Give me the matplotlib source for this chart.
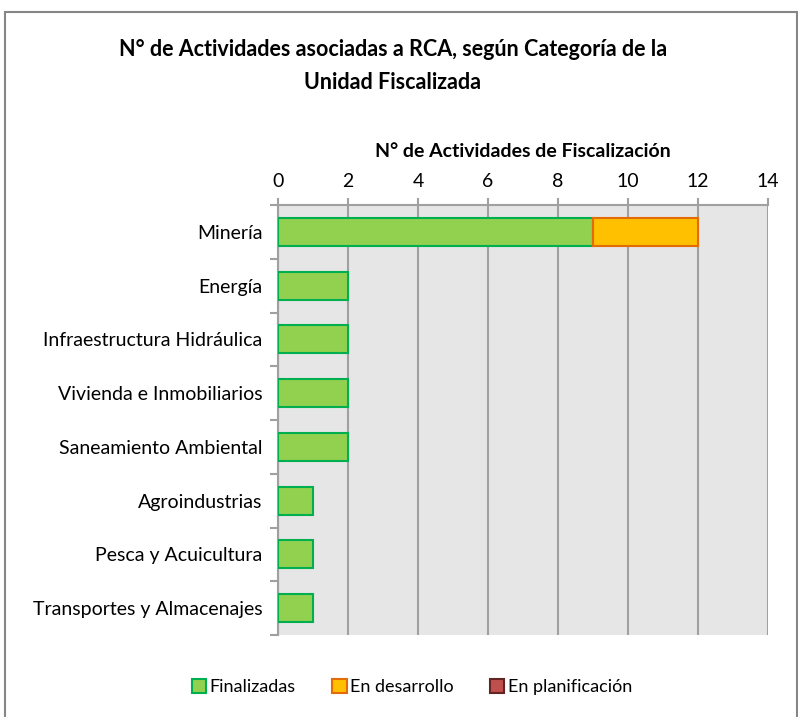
import matplotlib
matplotlib.use("Agg")
import matplotlib.pyplot as plt
from matplotlib.patches import Patch
import numpy as np

categorias = ["Minería", "Energía", "Infraestructura Hidráulica", "Vivienda e Inmobiliarios",
              "Saneamiento Ambiental", "Agroindustrias", "Pesca y Acuicultura",
              "Transportes y Almacenajes"]
finalizadas = [9, 2, 2, 2, 2, 1, 1, 1]
en_desarrollo = [3, 0, 0, 0, 0, 0, 0, 0]
en_planificacion = [0, 0, 0, 0, 0, 0, 0, 0]
series = ["Finalizadas", "En desarrollo", "En planificación"]

FILL = ["#92d050", "#ffc000", "#c0504d"]
EDGE = ["#00b050", "#e36c09", "#632523"]
GRID = "#a0a0a0"

plt.rcParams.update({"font.family": ["Lato", "DejaVu Sans"], "font.size": 12})

W, H = 798, 717
fig = plt.figure(figsize=(W/100, H/100), dpi=100)
ax = fig.add_axes([278/W, 1-635/H, (768-278)/W, (635-205)/H])
ax.set_facecolor("#e6e6e6")

y = np.arange(len(categorias))
left = np.zeros(len(categorias))
for vals, fc, ec in zip([finalizadas, en_desarrollo, en_planificacion], FILL, EDGE):
    v = np.array(vals, float)
    lw = np.where(v > 0, 1.5, 0.0)   # no outline for empty segments
    ax.barh(y, v, left=left, height=0.52, color=fc, edgecolor=ec, linewidth=lw, zorder=3)
    left += v

ax.set_xlim(0, 14)
ax.set_ylim(len(categorias)-0.5, -0.5)
ax.set_xticks(range(0, 15, 2))
ax.xaxis.tick_top()
ax.xaxis.set_label_position("top")
ax.set_xlabel("N° de Actividades de Fiscalización", fontweight="bold", fontsize=14, labelpad=11)
ax.tick_params(axis="x", direction="out", length=5, color=GRID, width=1.5, pad=6, labelsize=14)
ax.grid(axis="x", color=GRID, lw=1.5, zorder=1)

ax.set_yticks(y)
ax.set_yticklabels(categorias, fontsize=14)
ax.set_yticks(np.arange(len(categorias)+1)-0.5, minor=True)
ax.tick_params(axis="y", which="major", length=0, pad=11)
ax.tick_params(axis="y", which="minor", direction="out", length=6, color=GRID, width=1.5)
for s in ["right", "bottom"]:
    ax.spines[s].set_visible(False)
for s in ["left", "top"]:
    ax.spines[s].set_color(GRID)
    ax.spines[s].set_linewidth(1.5)

fig.text(393/W, 1-66/H, "N° de Actividades asociadas a RCA, según Categoría de la\nUnidad Fiscalizada",
         ha="center", va="center", fontsize=15.5, fontweight="bold", linespacing=1.7)

handles = [Patch(facecolor=fc, edgecolor=ec, linewidth=1.5) for fc, ec in zip(FILL, EDGE)]
fig.legend(handles, series, loc="center", bbox_to_anchor=(412/W, 1-687/H),
           ncol=3, frameon=False, handlelength=0.8, handleheight=0.8, handletextpad=0.2,
           columnspacing=2.0, fontsize=13)

fig.patches.append(plt.Rectangle((5/W, -0.05), (W-6)/W, 1-12/H+0.05, transform=fig.transFigure,
                                 fill=False, edgecolor="#868686", lw=1.5))
fig.savefig("out.png", dpi=100)
